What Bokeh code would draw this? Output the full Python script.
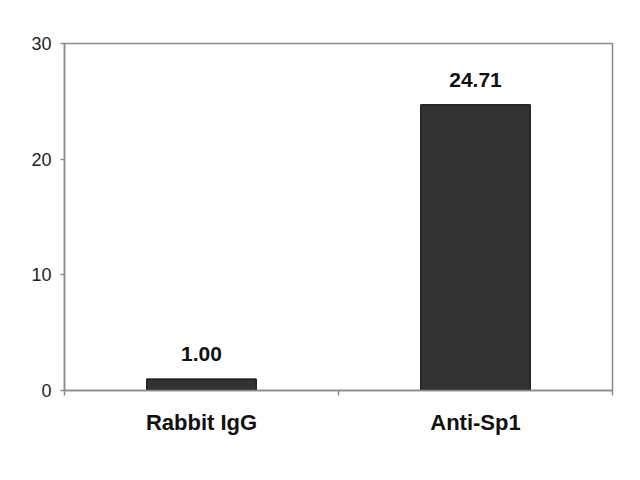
from bokeh.plotting import figure
from bokeh.models import ColumnDataSource, FixedTicker, Range1d
from bokeh.core.properties import value
from bokeh.embed import file_html
from bokeh.resources import INLINE

categories = ["Rabbit IgG", "Anti-Sp1"]
values = [1.00, 24.71]
y_ticks = [0, 10, 20, 30]

xs = [i + 0.5 for i in range(len(categories))]
labels = ["%.2f" % v for v in values]
src = ColumnDataSource(dict(x=xs, top=values, label=labels))

p = figure(width=624, height=464, output_backend="svg", toolbar_location=None,
           x_range=Range1d(0, len(categories)), y_range=Range1d(0, 30),
           min_border_left=64, min_border_right=12, min_border_top=43, min_border_bottom=74)
p.background_fill_color = "white"
p.border_fill_color = "white"
p.outline_line_color = "#8a8a8a"
p.outline_line_width = 1.5
p.xgrid.visible = False
p.ygrid.visible = False

p.vbar(x="x", top="top", bottom=0, width=0.40, source=src,
       fill_color="#333333", line_color="#000000", line_width=1)

p.text(x="x", y="top", text="label", source=src, text_align="center",
       text_baseline="alphabetic", y_offset=-25,
       text_font=value("Liberation Sans"), text_font_style="bold",
       text_font_size="21px", text_color="#111111")

xa = p.xaxis[0]
xa.ticker = FixedTicker(ticks=xs, minor_ticks=list(range(len(categories) + 1)))
xa.major_label_overrides = {x: c for x, c in zip(xs, categories)}
xa.major_tick_line_color = None
xa.major_tick_out = 5
xa.major_tick_in = 0
xa.minor_tick_line_color = "#8a8a8a"
xa.minor_tick_line_width = 1.5
xa.minor_tick_out = 5
xa.minor_tick_in = 0
xa.axis_line_color = "#8a8a8a"
xa.axis_line_width = 1.5
xa.major_label_text_font = "Liberation Sans"
xa.major_label_text_font_style = "bold"
xa.major_label_text_font_size = "22px"
xa.major_label_text_color = "#111111"
xa.major_label_standoff = 14

ya = p.yaxis[0]
ya.ticker = FixedTicker(ticks=y_ticks, minor_ticks=[])
ya.major_tick_line_color = "#8a8a8a"
ya.major_tick_line_width = 1.5
ya.major_tick_out = 4
ya.major_tick_in = 0
ya.minor_tick_line_color = None
ya.axis_line_color = "#8a8a8a"
ya.axis_line_width = 1.5
ya.major_label_text_font = "Liberation Sans"
ya.major_label_text_font_size = "18px"
ya.major_label_text_color = "#222222"
ya.major_label_standoff = 9

open("out.html", "w").write(file_html(p, INLINE))
